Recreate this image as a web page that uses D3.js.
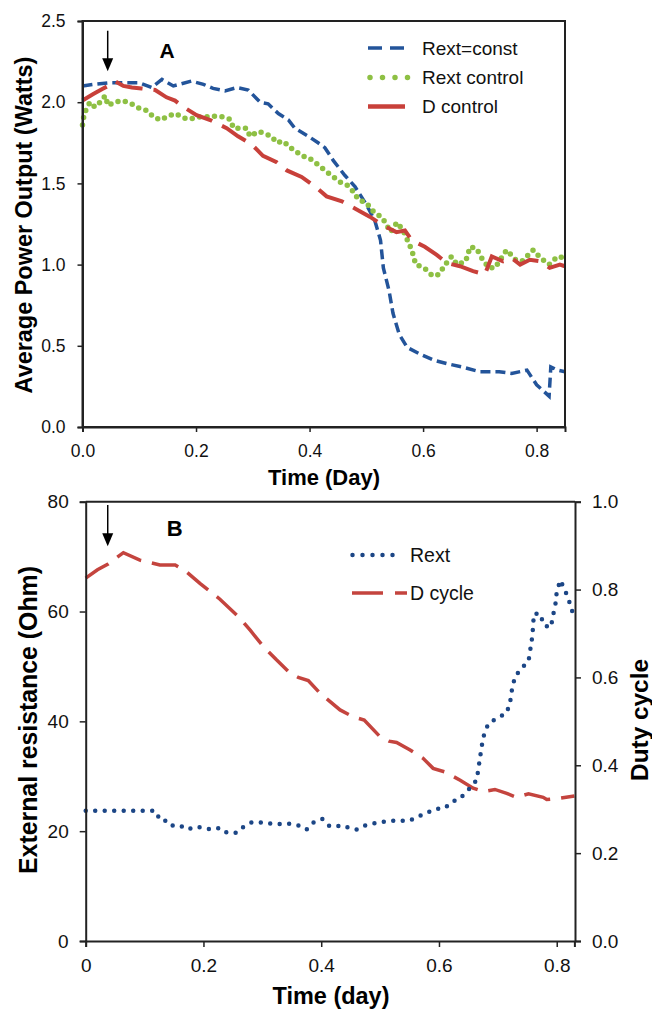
<!DOCTYPE html>
<html><head><meta charset="utf-8">
<script src="https://cdn.jsdelivr.net/npm/d3@7"></script>
<style>
body{margin:0;background:#fff;}
svg{display:block;font-family:"Liberation Sans",Arial,sans-serif;}
</style></head>
<body><svg id="c" width="652" height="1011"></svg>
<script>
// ---------- Panel A data ----------
const rextConst = [[0,2.10],[0.02,2.11],[0.05,2.12],[0.10,2.12],[0.122,2.09],[0.14,2.14],[0.16,2.10],[0.192,2.13],[0.213,2.11],[0.23,2.085],[0.251,2.07],[0.272,2.09],[0.292,2.075],[0.313,2.00],[0.327,1.99],[0.345,1.93],[0.363,1.89],[0.374,1.84],[0.398,1.79],[0.415,1.75],[0.427,1.72],[0.442,1.64],[0.462,1.55],[0.48,1.48],[0.50,1.37],[0.515,1.27],[0.525,1.15],[0.53,0.98],[0.54,0.84],[0.547,0.70],[0.558,0.57],[0.572,0.49],[0.594,0.45],[0.62,0.41],[0.642,0.39],[0.668,0.37],[0.70,0.34],[0.734,0.34],[0.756,0.33],[0.783,0.35],[0.80,0.26],[0.822,0.19],[0.825,0.37],[0.837,0.35],[0.85,0.34]];
const rextControl = [[0,1.86],[0.003,1.93],[0.013,2.00],[0.022,1.97],[0.031,2.00],[0.04,2.04],[0.045,1.98],[0.057,2.00],[0.069,2.01],[0.08,2.00],[0.092,1.98],[0.101,1.96],[0.113,1.95],[0.125,1.91],[0.137,1.89],[0.151,1.915],[0.163,1.93],[0.175,1.91],[0.184,1.895],[0.195,1.90],[0.207,1.91],[0.219,1.91],[0.23,1.915],[0.246,1.91],[0.26,1.895],[0.266,1.84],[0.289,1.84],[0.295,1.79],[0.31,1.82],[0.318,1.81],[0.333,1.79],[0.342,1.75],[0.354,1.76],[0.366,1.72],[0.377,1.695],[0.385,1.67],[0.398,1.66],[0.413,1.62],[0.427,1.58],[0.442,1.54],[0.457,1.50],[0.466,1.49],[0.477,1.45],[0.486,1.40],[0.50,1.38],[0.514,1.32],[0.528,1.29],[0.543,1.20],[0.554,1.26],[0.565,1.21],[0.58,1.09],[0.587,1.00],[0.602,0.98],[0.617,0.93],[0.628,0.94],[0.639,1.00],[0.65,1.05],[0.66,1.00],[0.675,1.02],[0.683,1.11],[0.694,1.10],[0.705,1.03],[0.716,0.98],[0.727,0.98],[0.734,1.02],[0.747,1.09],[0.763,1.03],[0.774,1.02],[0.794,1.09],[0.807,1.04],[0.822,1.00],[0.837,1.05],[0.85,1.04]];
const dControl = [[0,2.01],[0.019,2.05],[0.034,2.08],[0.045,2.10],[0.057,2.13],[0.072,2.10],[0.087,2.09],[0.104,2.085],[0.128,2.075],[0.148,2.03],[0.163,2.01],[0.178,1.97],[0.201,1.92],[0.225,1.89],[0.254,1.84],[0.274,1.79],[0.298,1.74],[0.318,1.67],[0.342,1.63],[0.36,1.58],[0.386,1.54],[0.41,1.48],[0.43,1.42],[0.457,1.39],[0.483,1.34],[0.506,1.295],[0.53,1.24],[0.553,1.20],[0.568,1.21],[0.58,1.15],[0.603,1.11],[0.624,1.06],[0.642,1.01],[0.665,0.99],[0.688,0.96],[0.709,0.94],[0.721,1.05],[0.741,1.02],[0.756,1.04],[0.771,1.00],[0.788,1.03],[0.806,1.02],[0.823,0.98],[0.841,1.00],[0.85,0.99]];
const timeTicksA = [0,0.2,0.4,0.6,0.8];
const powerTicks = [0,0.5,1.0,1.5,2.0,2.5];
const legendA = ["Rext=const","Rext control","D control"];

// ---------- Panel B data ----------
const rext = [[0,23.7],[0.118,23.7],[0.127,21.9],[0.138,21.9],[0.146,21.0],[0.159,21.1],[0.173,20.3],[0.187,20.8],[0.201,20.6],[0.212,20.3],[0.228,20.6],[0.24,19.7],[0.256,19.7],[0.268,20.8],[0.282,21.6],[0.30,21.6],[0.318,21.3],[0.332,21.3],[0.344,21.4],[0.36,21.1],[0.375,20.3],[0.388,21.7],[0.402,22.2],[0.413,21.0],[0.423,20.8],[0.435,21.1],[0.448,20.6],[0.46,20.3],[0.473,21.0],[0.489,21.4],[0.505,21.7],[0.519,21.9],[0.536,21.9],[0.55,21.9],[0.561,22.5],[0.575,23.1],[0.593,24.0],[0.61,24.2],[0.621,25.3],[0.635,25.9],[0.649,27.4],[0.664,29.3],[0.667,31.4],[0.67,33.6],[0.673,35.7],[0.677,37.8],[0.684,39.6],[0.699,40.6],[0.715,41.5],[0.721,43.6],[0.724,45.8],[0.729,48.1],[0.74,49.7],[0.752,50.9],[0.755,53.0],[0.758,55.1],[0.76,57.4],[0.761,59.6],[0.772,59.6],[0.778,57.5],[0.79,57.1],[0.794,59.4],[0.798,61.5],[0.80,63.6],[0.806,65.7],[0.814,63.9],[0.821,61.9],[0.827,59.8]];
const dCycle = [[0,0.826],[0.02,0.845],[0.038,0.858],[0.064,0.884],[0.092,0.867],[0.126,0.856],[0.152,0.856],[0.169,0.843],[0.194,0.814],[0.228,0.778],[0.262,0.735],[0.279,0.708],[0.302,0.67],[0.324,0.64],[0.347,0.61],[0.361,0.60],[0.378,0.593],[0.398,0.564],[0.432,0.526],[0.455,0.51],[0.473,0.503],[0.50,0.465],[0.515,0.455],[0.528,0.452],[0.551,0.435],[0.573,0.416],[0.59,0.393],[0.61,0.385],[0.636,0.366],[0.658,0.348],[0.675,0.34],[0.695,0.345],[0.715,0.336],[0.732,0.327],[0.752,0.335],[0.777,0.327],[0.783,0.322],[0.806,0.325],[0.83,0.33]];
const timeTicksB = [0,0.2,0.4,0.6,0.8];
const resistanceTicks = [0,20,40,60,80];
const dutyTicks = [0,0.2,0.4,0.6,0.8,1.0];
const legendB = ["Rext","D cycle"];

// annotations (data coords)
const arrowA = {t:0.0444, from:2.44, to:2.19};
const arrowB = {t:0.0374, from:79.4, to:71.9};

const svg = d3.select("#c");
const C = {blueA:"#23549a", green:"#8ec044", red:"#c8403a", blueB:"#1c4686", redB:"#c4443e"};

function fit(sel, target){
  const n = sel.node(); const fs = parseFloat(sel.attr("font-size"));
  const len = n.getComputedTextLength();
  if(len>0) sel.attr("font-size", fs*target/len);
  return sel;
}
function arrow(g, x, y1, y2){
  g.append("line").attr("x1",x).attr("x2",x).attr("y1",y1).attr("y2",y2-11).attr("stroke","#000").attr("stroke-width",1.5);
  g.append("path").attr("d",`M${x-5.5},${y2-13} L${x+5.5},${y2-13} L${x},${y2} Z`).attr("fill","#000");
}

// ================= Panel A =================
const xA = d3.scaleLinear().domain([0,0.85]).range([82.5,565]);
const yA = d3.scaleLinear().domain([0,2.5]).range([427,21]);
const gA = svg.append("g");

const lineA = d3.line().x(d=>xA(d[0])).y(d=>yA(d[1]));
gA.append("path").datum(rextConst).attr("d",lineA).attr("fill","none")
  .attr("stroke",C.blueA).attr("stroke-width",3.5).attr("stroke-dasharray","10,5");
gA.append("path").datum(rextControl).attr("d",lineA).attr("fill","none")
  .attr("stroke",C.green).attr("stroke-width",5.5).attr("stroke-linecap","round").attr("stroke-dasharray","0,7.5");
gA.append("path").datum(dControl).attr("d",lineA).attr("fill","none")
  .attr("stroke",C.red).attr("stroke-width",4).attr("stroke-dasharray","28,11");

gA.append("rect").attr("x",xA(0)).attr("y",yA(2.5)).attr("width",xA(0.85)-xA(0)).attr("height",yA(0)-yA(2.5))
  .attr("fill","none").attr("stroke","#222").attr("stroke-width",2);

const axA_x = gA.append("g").attr("transform",`translate(0,${yA(0)})`)
  .call(d3.axisBottom(xA).tickValues(timeTicksA).tickFormat(d3.format(".1f")).tickSize(5).tickPadding(13));
const axA_y = gA.append("g").attr("transform",`translate(${xA(0)},0)`)
  .call(d3.axisLeft(yA).tickValues(powerTicks).tickFormat(d3.format(".1f")).tickSize(5).tickPadding(12));
[axA_x,axA_y].forEach(a=>{
  a.select(".domain").attr("stroke","#222").attr("stroke-width",2);
  a.selectAll(".tick line").attr("stroke","#222").attr("stroke-width",1.5);
  a.selectAll(".tick text").attr("font-size",17.5).attr("fill","#111").attr("font-family","Liberation Sans, Arial, sans-serif");
});

fit(gA.append("text").attr("x",324).attr("y",485).attr("text-anchor","middle")
  .attr("font-size",22).attr("font-weight","bold").text("Time (Day)"), 112);
fit(gA.append("text").attr("transform",`translate(32,225) rotate(-90)`).attr("text-anchor","middle")
  .attr("font-size",23).attr("font-weight","bold").text("Average Power Output (Watts)"), 337);
gA.append("text").attr("x",xA(0.149)).attr("y",yA(2.27)).attr("text-anchor","middle")
  .attr("font-size",21).attr("font-weight","bold").text("A");
arrow(gA, xA(arrowA.t), yA(arrowA.from), yA(arrowA.to));

const legA = gA.append("g");
const legAy = [48,77.5,106.5];
legA.append("line").attr("x1",368).attr("x2",408).attr("y1",legAy[0]).attr("y2",legAy[0])
  .attr("stroke",C.blueA).attr("stroke-width",3.5).attr("stroke-dasharray","14,8");
legA.append("line").attr("x1",370).attr("x2",410).attr("y1",legAy[1]).attr("y2",legAy[1])
  .attr("stroke",C.green).attr("stroke-width",5.5).attr("stroke-linecap","round").attr("stroke-dasharray","0,12.5");
legA.append("line").attr("x1",368).attr("x2",405).attr("y1",legAy[2]).attr("y2",legAy[2])
  .attr("stroke",C.red).attr("stroke-width",4.5);
legendA.forEach((s,i)=>legA.append("text").attr("x",422).attr("y",legAy[i]).attr("dy","0.35em")
  .attr("font-size",19).attr("fill","#111").text(s));

// ================= Panel B =================
const xB = d3.scaleLinear().domain([0,0.83]).range([85.7,574.4]);
const yB = d3.scaleLinear().domain([0,80]).range([941,501.7]);
const yB2 = d3.scaleLinear().domain([0,1]).range([941,501.7]);
const gB = svg.append("g");

gB.append("path").datum(dCycle).attr("d",d3.line().x(d=>xB(d[0])).y(d=>yB2(d[1]))).attr("fill","none")
  .attr("stroke",C.redB).attr("stroke-width",3.5).attr("stroke-dasharray","27,11");
gB.append("path").datum(rext).attr("d",d3.line().x(d=>xB(d[0])).y(d=>yB(d[1]))).attr("fill","none")
  .attr("stroke",C.blueB).attr("stroke-width",4.5).attr("stroke-linecap","round").attr("stroke-dasharray","0,9.5");

gB.append("line").attr("x1",xB(0)).attr("x2",575).attr("y1",yB(80)).attr("y2",yB(80)).attr("stroke","#222").attr("stroke-width",2);

const axB_x = gB.append("g").attr("transform",`translate(0,${yB(0)})`)
  .call(d3.axisBottom(xB).tickValues(timeTicksB).tickFormat(d=>d===0?"0":d3.format(".1f")(d)).tickSize(6).tickPadding(12));
const axB_y = gB.append("g").attr("transform",`translate(${xB(0)},0)`)
  .call(d3.axisLeft(yB).tickValues(resistanceTicks).tickFormat(d3.format("d")).tickSize(6).tickPadding(11));
const axB_y2 = gB.append("g").attr("transform",`translate(575,0)`)
  .call(d3.axisRight(yB2).tickValues(dutyTicks).tickFormat(d3.format(".1f")).tickSize(6).tickPadding(11));
[axB_x,axB_y,axB_y2].forEach(a=>{
  a.select(".domain").attr("stroke","#222").attr("stroke-width",2);
  a.selectAll(".tick line").attr("stroke","#222").attr("stroke-width",1.5);
  a.selectAll(".tick text").attr("font-size",19).attr("fill","#111").attr("font-family","Liberation Sans, Arial, sans-serif");
});

fit(gB.append("text").attr("x",331).attr("y",1004).attr("text-anchor","middle")
  .attr("font-size",23.5).attr("font-weight","bold").text("Time (day)"), 117);
fit(gB.append("text").attr("transform",`translate(37,720) rotate(-90)`).attr("text-anchor","middle")
  .attr("font-size",24.5).attr("font-weight","bold").text("External resistance (Ohm)"), 308);
fit(gB.append("text").attr("transform",`translate(648,720) rotate(-90)`).attr("text-anchor","middle")
  .attr("font-size",24).attr("font-weight","bold").text("Duty cycle"), 122);
gB.append("text").attr("x",xB(0.151)).attr("y",yB(73.8)).attr("text-anchor","middle")
  .attr("font-size",22).attr("font-weight","bold").text("B");
arrow(gB, xB(arrowB.t), yB(arrowB.from), yB(arrowB.to));

const legB = gB.append("g");
const legBy = [555,593];
legB.append("line").attr("x1",352.5).attr("x2",402.5).attr("y1",legBy[0]).attr("y2",legBy[0])
  .attr("stroke",C.blueB).attr("stroke-width",4.5).attr("stroke-linecap","round").attr("stroke-dasharray","0,10");
legB.append("line").attr("x1",352).attr("x2",407).attr("y1",legBy[1]).attr("y2",legBy[1])
  .attr("stroke",C.redB).attr("stroke-width",3.5).attr("stroke-dasharray","31,12");
legendB.forEach((s,i)=>legB.append("text").attr("x",410).attr("y",legBy[i]).attr("dy","0.35em")
  .attr("font-size",19.5).attr("fill","#111").text(s));
</script></body></html>
